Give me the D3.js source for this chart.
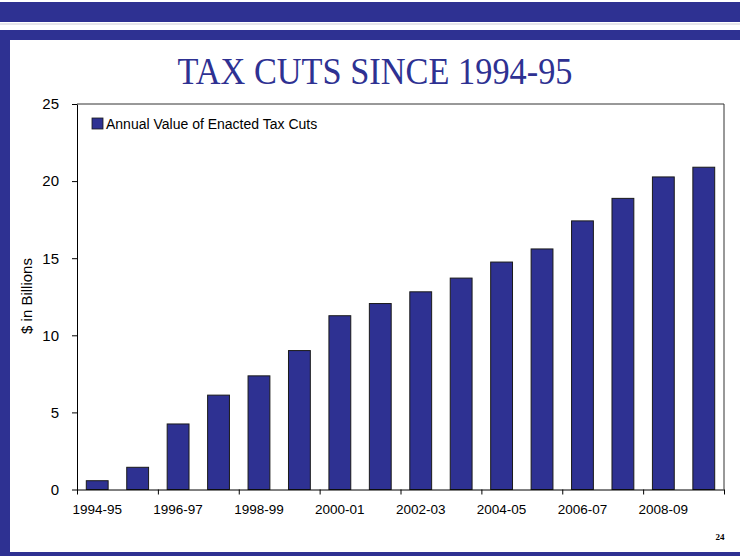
<!DOCTYPE html>
<html>
<head>
<meta charset="utf-8">
<script src="https://cdn.jsdelivr.net/npm/d3@7"></script>
<style>
  body { margin: 0; background: #fff; }
  svg { display: block; }
</style>
</head>
<body>
<div id="chart"></div>
<script>
// data
const years = ["1994-95", "1995-96", "1996-97", "1997-98", "1998-99", "1999-00",
  "2000-01", "2001-02", "2002-03", "2003-04", "2004-05", "2005-06",
  "2006-07", "2007-08", "2008-09", "2009-10"];
const taxCuts = [0.57, 1.44, 4.25, 6.12, 7.37, 9.01, 11.27, 12.06,
  12.82, 13.71, 14.75, 15.6, 17.42, 18.88, 20.27, 20.9];
const yTicks = [0, 5, 10, 15, 20, 25];
const seriesName = "Annual Value of Enacted Tax Cuts";

const width = 740;
const height = 556;
const blue = "#2e3192";
const sans = "'Liberation Sans', Arial, sans-serif";

const plot = { left: 77, right: 724, top: 104, bottom: 489.5 };

const svg = d3.select("#chart")
  .append("svg")
  .attr("width", width)
  .attr("height", height);

// slide frame
svg.append("rect").attr("x", 0).attr("y", 2).attr("width", width).attr("height", 20).attr("fill", blue);
svg.append("rect").attr("x", 0).attr("y", 23).attr("width", width).attr("height", 2).attr("fill", "#e6e6ea");
svg.append("rect").attr("x", 0).attr("y", 30).attr("width", width).attr("height", 10).attr("fill", blue);
svg.append("rect").attr("x", 0).attr("y", 30).attr("width", 10).attr("height", height - 30).attr("fill", blue);
svg.append("rect").attr("x", 0).attr("y", 552).attr("width", width).attr("height", 4).attr("fill", blue);

// title
svg.append("text")
  .attr("x", 375)
  .attr("y", 84)
  .attr("text-anchor", "middle")
  .attr("textLength", 395)
  .attr("lengthAdjust", "spacingAndGlyphs")
  .style("font-family", "'Liberation Serif', 'Times New Roman', serif")
  .style("font-size", "38px")
  .attr("fill", blue)
  .text("TAX CUTS SINCE 1994-95");

const x = d3.scaleBand()
  .domain(years)
  .range([plot.left, plot.right])
  .paddingInner(0.46)
  .paddingOuter(0.23);

const xEdge = d3.scaleLinear()
  .domain([0, years.length])
  .range([plot.left, plot.right]);

const y = d3.scaleLinear()
  .domain([0, 25])
  .range([plot.bottom, plot.top]);

// plot frame (top and right)
svg.append("path")
  .attr("d", `M${plot.left},${y(25)}H${plot.right}V${y(0)}`)
  .attr("fill", "none")
  .attr("stroke", "#333")
  .attr("stroke-width", 1);

// bars
svg.append("g")
  .selectAll("rect")
  .data(taxCuts)
  .join("rect")
  .attr("x", (d, i) => x(years[i]))
  .attr("y", d => y(d))
  .attr("width", x.bandwidth())
  .attr("height", d => y(0) - y(d))
  .attr("fill", blue)
  .attr("stroke", "#1a1a1a")
  .attr("stroke-width", 1);

// y axis
const yAxis = svg.append("g")
  .attr("transform", `translate(${plot.left},0)`)
  .call(d3.axisLeft(y).tickValues(yTicks).tickSize(5).tickPadding(13).tickSizeOuter(0));
yAxis.selectAll("text")
  .style("font-family", sans)
  .style("font-size", "15px")
  .attr("fill", "#000");

// x axis: ticks every two categories on boundaries
svg.append("g")
  .attr("transform", `translate(0,${plot.bottom})`)
  .call(d3.axisBottom(xEdge).tickValues(d3.range(0, years.length + 1, 2)).tickSize(5).tickFormat("").tickSizeOuter(0));

const xLabels = svg.append("g")
  .attr("transform", `translate(0,${plot.bottom})`)
  .call(d3.axisBottom(x).tickValues(years.filter((d, i) => i % 2 === 0)).tickSize(0).tickPadding(15));
xLabels.select(".domain").remove();
xLabels.selectAll("text")
  .style("font-family", sans)
  .style("font-size", "13.5px")
  .attr("fill", "#000");

svg.selectAll(".domain").attr("stroke", "#000");
svg.selectAll(".tick line").attr("stroke", "#000");

// y axis title
svg.append("text")
  .attr("transform", "translate(32,296) rotate(-90)")
  .attr("text-anchor", "middle")
  .style("font-family", sans)
  .style("font-size", "15px")
  .text("$ in Billions");

// legend
const legend = svg.append("g").attr("transform", "translate(92,118)");
legend.append("rect")
  .attr("width", 11)
  .attr("height", 11)
  .attr("fill", blue)
  .attr("stroke", "#1a1a1a")
  .attr("stroke-width", 0.8);
legend.append("text")
  .attr("x", 14)
  .attr("y", 10.5)
  .style("font-family", sans)
  .style("font-size", "14px")
  .text(seriesName);

// slide number
svg.append("text")
  .attr("x", 720)
  .attr("y", 540)
  .attr("text-anchor", "middle")
  .style("font-family", "'Liberation Serif', serif")
  .style("font-size", "9px")
  .style("font-weight", "bold")
  .text("24");
</script>
</body>
</html>
